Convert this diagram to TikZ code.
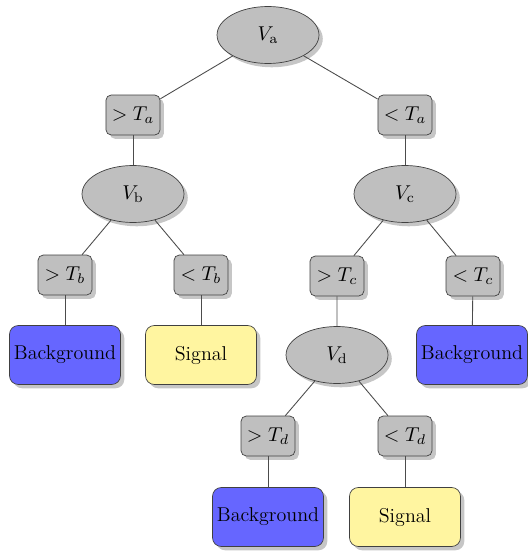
\RequirePackage{fix-cm}
\documentclass[tikz,border=0pt]{standalone}
\usetikzlibrary{shapes.geometric,shadows}
\definecolor{bgblue}{RGB}{102,102,255}
\definecolor{sigyellow}{RGB}{255,245,160}
\tikzset{
  every node/.style={font=\fontsize{11.4}{13.5}\selectfont},
  var/.style={ellipse,draw=black!75,fill=black!25,minimum width=2.04cm,minimum height=1.14cm,drop shadow={opacity=0.45}},
  cut/.style={rectangle,rounded corners=3pt,draw=black!75,fill=black!25,minimum width=1.08cm,minimum height=0.8cm,drop shadow={opacity=0.45}},
  leaf/.style={rectangle,rounded corners=5pt,draw=black!75,inner xsep=1pt,minimum width=2.22cm,minimum height=1.18cm,drop shadow={opacity=0.45}},
  bkg/.style={leaf,fill=bgblue},
  sig/.style={leaf,fill=sigyellow},
  link/.style={draw=black!70,line width=0.5pt}
}
\begin{document}
\begin{tikzpicture}[x=0.02cm,y=-0.02cm]
  \useasboundingbox (0,0) rectangle (527,554);
  % variables
  \node[var] (va) at (268,35) {$V_{\mathrm{a}}$};
  \node[var] (vb) at (133,194) {$V_{\mathrm{b}}$};
  \node[var] (vc) at (405,194) {$V_{\mathrm{c}}$};
  \node[var] (vd) at (337,355) {$V_{\mathrm{d}}$};
  % cuts
  \node[cut] (gta) at (133,115) {$>T_a$};
  \node[cut] (lta) at (405,115) {$<T_a$};
  \node[cut] (gtb) at (65,275) {$>T_b$};
  \node[cut] (ltb) at (201,275) {$<T_b$};
  \node[cut] (gtc) at (337,276) {$>T_c$};
  \node[cut] (ltc) at (473,276) {$<T_c$};
  \node[cut] (gtd) at (268,436) {$>T_d$};
  \node[cut] (ltd) at (405,436) {$<T_d$};
  % leaves
  \node[bkg] (bb) at (65,355) {Background};
  \node[sig] (sb) at (201,355) {Signal};
  \node[bkg] (bc) at (472,355) {Background};
  \node[bkg] (bd) at (268,517) {Background};
  \node[sig] (sd) at (405,517) {Signal};
  % links
  \draw[link] (va) -- (gta) (va) -- (lta);
  \draw[link] (gta) -- (vb) (lta) -- (vc);
  \draw[link] (vb) -- (gtb) (vb) -- (ltb);
  \draw[link] (vc) -- (gtc) (vc) -- (ltc);
  \draw[link] (gtb) -- (bb) (ltb) -- (sb);
  \draw[link] (gtc) -- (vd) (ltc) -- (bc);
  \draw[link] (vd) -- (gtd) (vd) -- (ltd);
  \draw[link] (gtd) -- (bd) (ltd) -- (sd);
\end{tikzpicture}
\end{document}
